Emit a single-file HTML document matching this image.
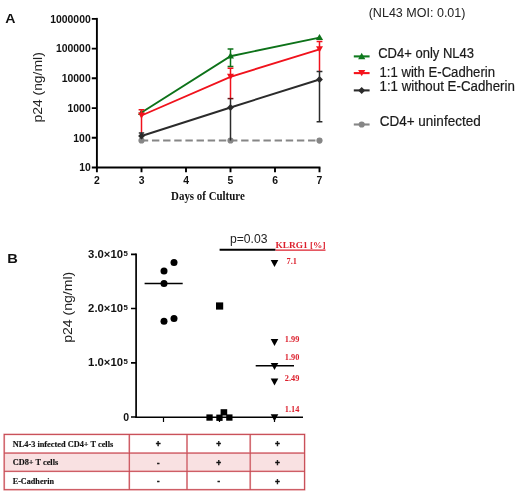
<!DOCTYPE html>
<html lang="en">
<head>
<meta charset="utf-8">
<title>Figure</title>
<style>
html,body{margin:0;padding:0;background:#fff;}
body{width:520px;height:494px;overflow:hidden;position:relative;}
svg{display:block;position:absolute;left:0;top:0;will-change:transform;}
.sans{font-family:"Liberation Sans",Arial,sans-serif;}
.serif{font-family:"Liberation Serif","Times New Roman",serif;}
.b{font-weight:bold;}
</style>
</head>
<body>
<svg width="520" height="494" viewBox="0 0 520 494">
<rect x="0" y="0" width="520" height="494" fill="#ffffff"/>

<!-- ================= PANEL A ================= -->
<text x="5.3" y="23.3" class="sans b" font-size="13.3" fill="#111" textLength="10.2" lengthAdjust="spacingAndGlyphs">A</text>

<!-- y axis label -->
<text transform="translate(41.7,87.4) rotate(-90)" text-anchor="middle" class="sans" font-size="12.7" fill="#222" textLength="70.3" lengthAdjust="spacingAndGlyphs">p24 (ng/ml)</text>

<!-- axes -->
<g stroke="#000" stroke-width="1.9" fill="none" stroke-linecap="butt">
  <path d="M96.9 17.9V168.4"/>
  <path d="M96 167.5H320.4"/>
  <!-- y ticks -->
  <path d="M91.8 18.9H97M91.8 48.6H97M91.8 78.3H97M91.8 108.1H97M91.8 137.8H97M91.8 167.5H97"/>
  <!-- x ticks -->
  <path d="M96.9 167.5V172.3M141.5 167.5V172.3M186 167.5V172.3M230.5 167.5V172.3M275 167.5V172.3M319.5 167.5V172.3"/>
</g>

<!-- y tick labels -->
<g class="sans b" font-size="10.4" fill="#111" text-anchor="end">
  <text x="90.7" y="22.7">1000000</text>
  <text x="90.7" y="52.4">100000</text>
  <text x="90.7" y="82.1">10000</text>
  <text x="90.7" y="111.9">1000</text>
  <text x="90.7" y="141.6">100</text>
  <text x="90.7" y="171.3">10</text>
</g>
<!-- x tick labels -->
<g class="sans b" font-size="10.4" fill="#111" text-anchor="middle">
  <text x="97" y="183.5">2</text>
  <text x="141.6" y="183.5">3</text>
  <text x="186.1" y="183.5">4</text>
  <text x="230.5" y="183.5">5</text>
  <text x="275.1" y="183.5">6</text>
  <text x="319.4" y="183.5">7</text>
</g>
<text x="171.1" y="199.9" class="serif b" font-size="11.8" fill="#111" textLength="73.7" lengthAdjust="spacingAndGlyphs">Days of Culture</text>

<!-- gray dashed series -->
<g stroke="#868686" fill="#868686">
  <path d="M140.8 140.5H319.5" stroke-width="2" stroke-dasharray="7.4 3.75" fill="none"/>
  <circle cx="141.5" cy="140.5" r="3.1" stroke="none"/>
  <circle cx="230.5" cy="140.5" r="3.1" stroke="none"/>
  <circle cx="319.5" cy="140.6" r="3.1" stroke="none"/>
</g>

<!-- green series -->
<g stroke="#0d7219" fill="#0d7219" stroke-width="1.9">
  <path d="M141.5 112.5L230.5 56.2L319.5 37.6" fill="none"/>
  <path d="M230.5 49V66.6M227.6 49H233.4M227.6 66.6H233.4" stroke-width="1.5" fill="none"/>
  <path d="M141.5 109l3.5 6h-7z" stroke="none"/>
  <path d="M230.5 52.4l3.5 6h-7z" stroke="none"/>
  <path d="M319.5 34l3.6 6h-7.2z" stroke="none"/>
</g>

<!-- red series -->
<g stroke="#f0121c" fill="#f0121c" stroke-width="1.9">
  <path d="M141.5 115.5L230.5 76.8L319.5 49.3" fill="none"/>
  <path d="M141.5 109.7V134M138.6 109.7H144.4" stroke-width="1.5" fill="none"/>
  <path d="M230.5 68.3V99M227.6 68.3H233.4" stroke-width="1.5" fill="none"/>
  <path d="M319.5 41.4V71.5M316.6 41.4H322.4" stroke-width="1.5" fill="none"/>
  <path d="M138 112.6h7l-3.5 6.2z" stroke="none"/>
  <path d="M227 73.8h7l-3.5 6.2z" stroke="none"/>
  <path d="M316 46.3h7l-3.5 6.3z" stroke="none"/>
</g>

<!-- black series -->
<g stroke="#2b2b2b" fill="#2b2b2b" stroke-width="1.9">
  <path d="M141.5 136L230.5 107.5L319.5 79.5" fill="none"/>
  <!-- error bars -->
  <path d="M141.5 133V139M138.8 133H144.2" stroke-width="1.5" fill="none"/>
  <path d="M230.5 98.6V140.5" stroke-width="1.5" fill="none"/>
  <path d="M227.6 98.6H233.4" stroke-width="1.5" stroke="#6b1216" fill="none"/>
  <path d="M319.5 71.5V121.7M316.6 71.5H322.4M316.6 121.7H322.4" stroke-width="1.5" fill="none"/>
  <path d="M141.5 132.6l3.4 3.5l-3.4 3.5l-3.4 -3.5z" stroke="none"/>
  <path d="M230.5 104l3.4 3.5l-3.4 3.5l-3.4 -3.5z" stroke="none"/>
  <path d="M319.5 76l3.4 3.5l-3.4 3.5l-3.4 -3.5z" stroke="none"/>
</g>

<!-- legend -->
<text x="368.7" y="16.6" class="sans" font-size="12.7" fill="#222" textLength="96.8" lengthAdjust="spacingAndGlyphs">(NL43 MOI: 0.01)</text>

<g stroke-width="2.1">
  <path d="M353.8 56.4H369.6" stroke="#0f7a1e"/>
  <path d="M361.7 52.8l3.6 6.4h-7.2z" fill="#0f7a1e"/>
  <path d="M353.8 73.1H369.6" stroke="#f5141c"/>
  <path d="M358.1 70h7.2l-3.6 6.3z" fill="#f5141c"/>
  <path d="M353.8 90.4H369.6" stroke="#2b2b2b"/>
  <path d="M361.7 86.9l3.5 3.5l-3.5 3.5l-3.5 -3.5z" fill="#2b2b2b"/>
  <path d="M353.8 124.5H369.6" stroke="#868686"/>
  <circle cx="361.7" cy="124.5" r="3.1" fill="#868686"/>
</g>
<g class="sans" font-size="13.8" fill="#1a1a1a" stroke="#1a1a1a" stroke-width="0.2">
  <text x="378.2" y="57.5" textLength="95.8" lengthAdjust="spacingAndGlyphs">CD4+ only NL43</text>
  <text x="379.5" y="76.8" textLength="115.5" lengthAdjust="spacingAndGlyphs">1:1 with E-Cadherin</text>
  <text x="379.5" y="90.8" textLength="135.4" lengthAdjust="spacingAndGlyphs">1:1 without E-Cadherin</text>
  <text x="379.7" y="125.6" textLength="101" lengthAdjust="spacingAndGlyphs">CD4+ uninfected</text>
</g>

<!-- ================= PANEL B ================= -->
<text x="7.3" y="263.2" class="sans b" font-size="12.6" fill="#111" textLength="10.6" lengthAdjust="spacingAndGlyphs">B</text>
<text transform="translate(72.3,307.3) rotate(-90)" text-anchor="middle" class="sans" font-size="12.9" fill="#222" textLength="71" lengthAdjust="spacingAndGlyphs">p24 (ng/ml)</text>

<g stroke="#000" stroke-width="1.7" fill="none">
  <path d="M136.1 253.4V417.8"/>
  <path d="M135.3 417.2H303" stroke-width="1.5"/>
  <path d="M131 254.3H136.1M131 308.5H136.1M131 362.8H136.1M131 417H136.1"/>
  <path d="M163.5 417V422M219.5 417V422M274.5 417V422" stroke-width="1.2"/>
</g>
<g class="sans b" font-size="10.5" fill="#111">
  <text x="88.1" y="257.9" textLength="34.9" lengthAdjust="spacingAndGlyphs">3.0×10</text>
  <text x="88.1" y="312.1" textLength="34.9" lengthAdjust="spacingAndGlyphs">2.0×10</text>
  <text x="88.1" y="366.4" textLength="34.9" lengthAdjust="spacingAndGlyphs">1.0×10</text>
  <text x="123.3" y="420.8">0</text>
</g>
<g class="sans b" font-size="7.8" fill="#111">
  <text x="123.6" y="255.6">5</text>
  <text x="123.6" y="309.8">5</text>
  <text x="123.6" y="364.1">5</text>
</g>

<!-- group 1 circles -->
<g fill="#000">
  <circle cx="174" cy="262.6" r="3.5"/>
  <circle cx="164" cy="271" r="3.5"/>
  <circle cx="164" cy="283.5" r="3.5"/>
  <circle cx="174" cy="318.6" r="3.5"/>
  <circle cx="164" cy="321.3" r="3.5"/>
</g>
<path d="M144.6 283.5H182.7" stroke="#000" stroke-width="1.5"/>

<!-- group 2 squares -->
<g fill="#000">
  <rect x="216" y="302.4" width="7.2" height="7.2"/>
  <rect x="206.4" y="414.4" width="6.3" height="6.3"/>
  <rect x="216.3" y="414.6" width="6.3" height="6.3"/>
  <rect x="220.6" y="409.2" width="6.6" height="6.3"/>
  <rect x="226.2" y="414.4" width="6.3" height="6.3"/>
</g>

<!-- p value -->
<text x="230" y="242.7" class="sans" font-size="12" fill="#222" textLength="37.5" lengthAdjust="spacingAndGlyphs">p=0.03</text>
<path d="M219.6 249.8H275.5" stroke="#000" stroke-width="2.1"/>
<text x="275.5" y="248.4" class="serif b" font-size="9.2" fill="#dc1f2c" textLength="50" lengthAdjust="spacingAndGlyphs">KLRG1 [%]</text>
<path d="M275.5 250.2H325.5" stroke="#dc1f2c" stroke-width="1.2"/>

<!-- group 3 triangles -->
<g fill="#000">
  <path d="M270.7 260h7.6l-3.8 7z"/>
  <path d="M270.7 339.1h7.6l-3.8 7z"/>
  <path d="M270.7 362.9h7.6l-3.8 7z"/>
  <path d="M270.7 378.6h7.6l-3.8 7z"/>
  <path d="M270.7 414.2h7.6l-3.8 7z"/>
</g>
<path d="M255.7 365.7H294" stroke="#000" stroke-width="1.5"/>
<g class="serif b" font-size="8.3" fill="#dc1f2c">
  <text x="286.5" y="263.9">7.1</text>
  <text x="284.8" y="341.8">1.99</text>
  <text x="284.8" y="359.8">1.90</text>
  <text x="284.8" y="381.1">2.49</text>
  <text x="284.8" y="411.7">1.14</text>
</g>

<!-- table -->
<rect x="4.2" y="453.1" width="300.4" height="18.2" fill="#f9e1e2"/>
<g stroke="#f2c6c9" stroke-width="2" fill="none">
  <rect x="4.2" y="434.4" width="300.4" height="55.3"/>
  <path d="M4.2 453.1H304.6M4.2 471.3H304.6"/>
  <path d="M129.3 434.4V489.7M187 434.4V489.7M250.2 434.4V489.7"/>
</g>
<g stroke="#c5444e" stroke-width="1" fill="none">
  <rect x="4.2" y="434.4" width="300.4" height="55.3"/>
  <path d="M4.2 453.1H304.6M4.2 471.3H304.6"/>
  <path d="M129.3 434.4V489.7M187 434.4V489.7M250.2 434.4V489.7"/>
</g>
<g class="serif b" font-size="8.4" fill="#111" stroke="#111" stroke-width="0.15">
  <text x="12.7" y="446.9" textLength="100.5" lengthAdjust="spacingAndGlyphs">NL4-3 infected CD4+ T cells</text>
  <text x="12.7" y="465.4" textLength="45.5" lengthAdjust="spacingAndGlyphs">CD8+ T cells</text>
  <text x="12.7" y="484" textLength="41.3" lengthAdjust="spacingAndGlyphs">E-Cadherin</text>
</g>
<g class="sans b" font-size="8.4" fill="#111" stroke="#111" stroke-width="0.45" text-anchor="middle">
  <text x="158.2" y="446.6">+</text><text x="218.7" y="446.6">+</text><text x="277.4" y="446.6">+</text>
  <text x="218.7" y="465.7">+</text><text x="277.4" y="465.7">+</text>
  <text x="277.4" y="484.6">+</text>
</g>
<g class="sans b" font-size="7.5" fill="#111" stroke="#111" stroke-width="0.45" text-anchor="middle">
  <text x="158.2" y="464.5">-</text>
  <text x="158.2" y="483.1">-</text><text x="218.7" y="483.1">-</text>
</g>
</svg>
</body>
</html>
